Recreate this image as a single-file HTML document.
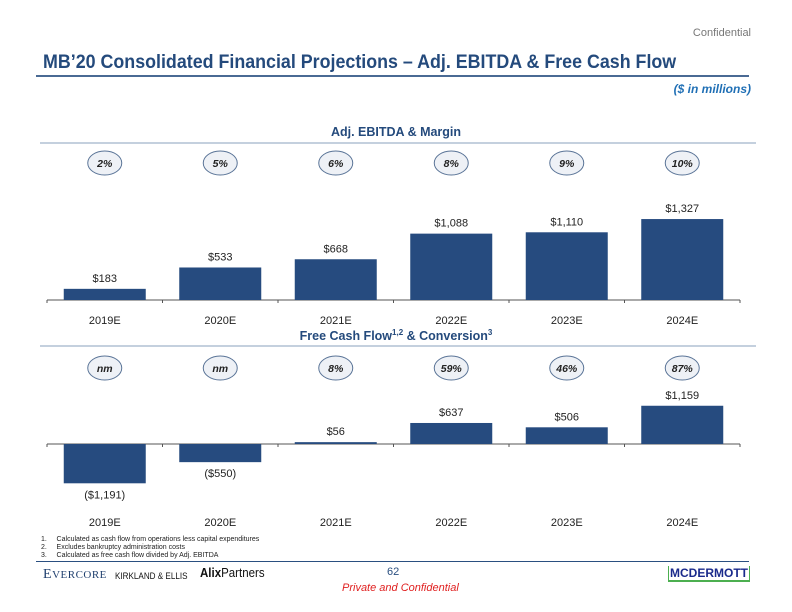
<!DOCTYPE html>
<html><head><meta charset="utf-8"><style>
body{margin:0;width:792px;height:612px;background:#fff;font-family:"Liberation Sans",sans-serif;position:relative;overflow:hidden}
.a{position:absolute;white-space:nowrap}
</style></head><body>
<div class="a" style="right:41px;top:27px;font-size:11px;color:#777">Confidential</div>
<div class="a" style="left:43px;top:51px;font-size:19.5px;font-weight:bold;color:#244a7c;transform:scaleX(0.915);transform-origin:0 0">MB’20 Consolidated Financial Projections – Adj. EBITDA &amp; Free Cash Flow</div>
<div class="a" style="left:36px;top:75px;width:713px;height:2px;background:#4a6a94"></div>
<div class="a" style="right:41px;top:82px;font-size:12px;font-weight:bold;font-style:italic;color:#1f6fb5">($ in millions)</div>
<svg class="a" style="left:0;top:0" width="792" height="612">
<g id="c1"></g>
<g id="c2"></g>
</svg>
<div class="a" style="left:41px;top:536px;font-size:7px;line-height:8px;color:#222">
1.&nbsp;&nbsp;&nbsp;&nbsp;&nbsp;Calculated as cash flow from operations less capital expenditures<br>2.&nbsp;&nbsp;&nbsp;&nbsp;&nbsp;Excludes bankruptcy administration costs<br>3.&nbsp;&nbsp;&nbsp;&nbsp;&nbsp;Calculated as free cash flow divided by Adj. EBITDA</div>
<div class="a" style="left:36px;top:561px;width:713px;height:1px;background:#2a4f80"></div>
<div class="a" style="left:43px;top:567px;font-family:'Liberation Serif',serif;font-size:14px;color:#1f3f6e;letter-spacing:0.5px">E<span style="font-size:11px">VERCORE</span></div>
<div class="a" style="left:115px;top:571px;font-size:9px;color:#111;transform:scaleX(0.9);transform-origin:0 0">KIRKLAND &amp; ELLIS</div>
<div class="a" style="left:200px;top:566px;font-size:12.5px;color:#111;transform:scaleX(0.92);transform-origin:0 0"><b>Alix</b>Partners</div>
<div class="a" style="left:387px;top:566px;font-size:11px;color:#2a4f80">62</div>
<div class="a" style="left:668px;top:566px;font-size:12px;font-weight:bold;color:#1a2a8c;border-bottom:2px solid #4caf50;border-left:1px solid #4caf50;border-right:1px solid #4caf50;padding:0 1px">MCDERMOTT</div>
<div class="a" style="left:342px;top:582px;font-size:11px;font-style:italic;color:#e02020">Private and Confidential</div>
<script>
const categories=["2019E","2020E","2021E","2022E","2023E","2024E"];
const ebitda=[183,533,668,1088,1110,1327];
const ebitdaLabels=["$183","$533","$668","$1,088","$1,110","$1,327"];
const margins=["2%","5%","6%","8%","9%","10%"];
const fcf=[-1191,-550,56,637,506,1159];
const fcfLabels=["($1,191)","($550)","$56","$637","$506","$1,159"];
const conversion=["nm","nm","8%","59%","46%","87%"];
const NS="http://www.w3.org/2000/svg";
function mk(p,t,a){const e=document.createElementNS(NS,t);for(const k in a)e.setAttribute(k,a[k]);p.appendChild(e);return e;}
const x0=47,step=115.5,bw=82;
function xc(i){return x0+step*(i+0.5);}
function draw(g,cfg){
  const {title,titleY,ruleY,ovalY,base,scale,vals,labels,pills,catY}=cfg;
  const t=mk(g,'text',{x:396,y:titleY,'text-anchor':'middle','font-size':12.5,'font-weight':'bold',fill:'#244a7c'});
  
  t.innerHTML=title;
  const r=mk(g,'line',{x1:40,x2:756,y1:ruleY,y2:ruleY,stroke:'#8aa0bd','stroke-width':1});
  
  const ax=mk(g,'line',{x1:x0,x2:x0+step*6,y1:base,y2:base,stroke:'#555','stroke-width':1});
  
  for(let i=0;i<=6;i++){const tk=mk(g,'line',{x1:x0+step*i,x2:x0+step*i,y1:base,y2:base+3,stroke:'#555'});
    }
  vals.forEach((v,i)=>{
    const h=Math.abs(v)*scale,top=v>=0?base-h:base;
    const b=mk(g,'rect',{x:xc(i)-bw/2,y:top,width:bw,height:Math.max(h,1),fill:'#264b7f'});
    
    const ly=v>=0?top-7:top+h+15;
    const l=mk(g,'text',{x:xc(i),y:ly,'text-anchor':'middle','font-size':11,fill:'#222'});
    
    l.textContent=labels[i];
    const c=mk(g,'text',{x:xc(i),y:catY,'text-anchor':'middle','font-size':11,fill:'#222'});
    
    c.textContent=categories[i];
    const o=mk(g,'ellipse',{cx:xc(i),cy:ovalY,rx:17,ry:12,fill:'#eef1f6',stroke:'#5a7497','stroke-width':1});
    
    const p=mk(g,'text',{x:xc(i),y:ovalY+4,'text-anchor':'middle','font-size':10.5,'font-weight':'bold','font-style':'italic',fill:'#222'});
    
    p.textContent=pills[i];
  });
}
draw(document.getElementById('c1'),{title:'Adj. EBITDA &amp; Margin',titleY:136,ruleY:143,ovalY:163,base:300,scale:0.061,vals:ebitda,labels:ebitdaLabels,pills:margins,catY:324});
draw(document.getElementById('c2'),{title:'Free Cash Flow<tspan font-size="8" dy="-5">1,2</tspan><tspan dy="5"> &amp; Conversion</tspan><tspan font-size="8" dy="-5">3</tspan>',titleY:340,ruleY:346,ovalY:368,base:444,scale:0.033,vals:fcf,labels:fcfLabels,pills:conversion,catY:526});
</script>
</body></html>
